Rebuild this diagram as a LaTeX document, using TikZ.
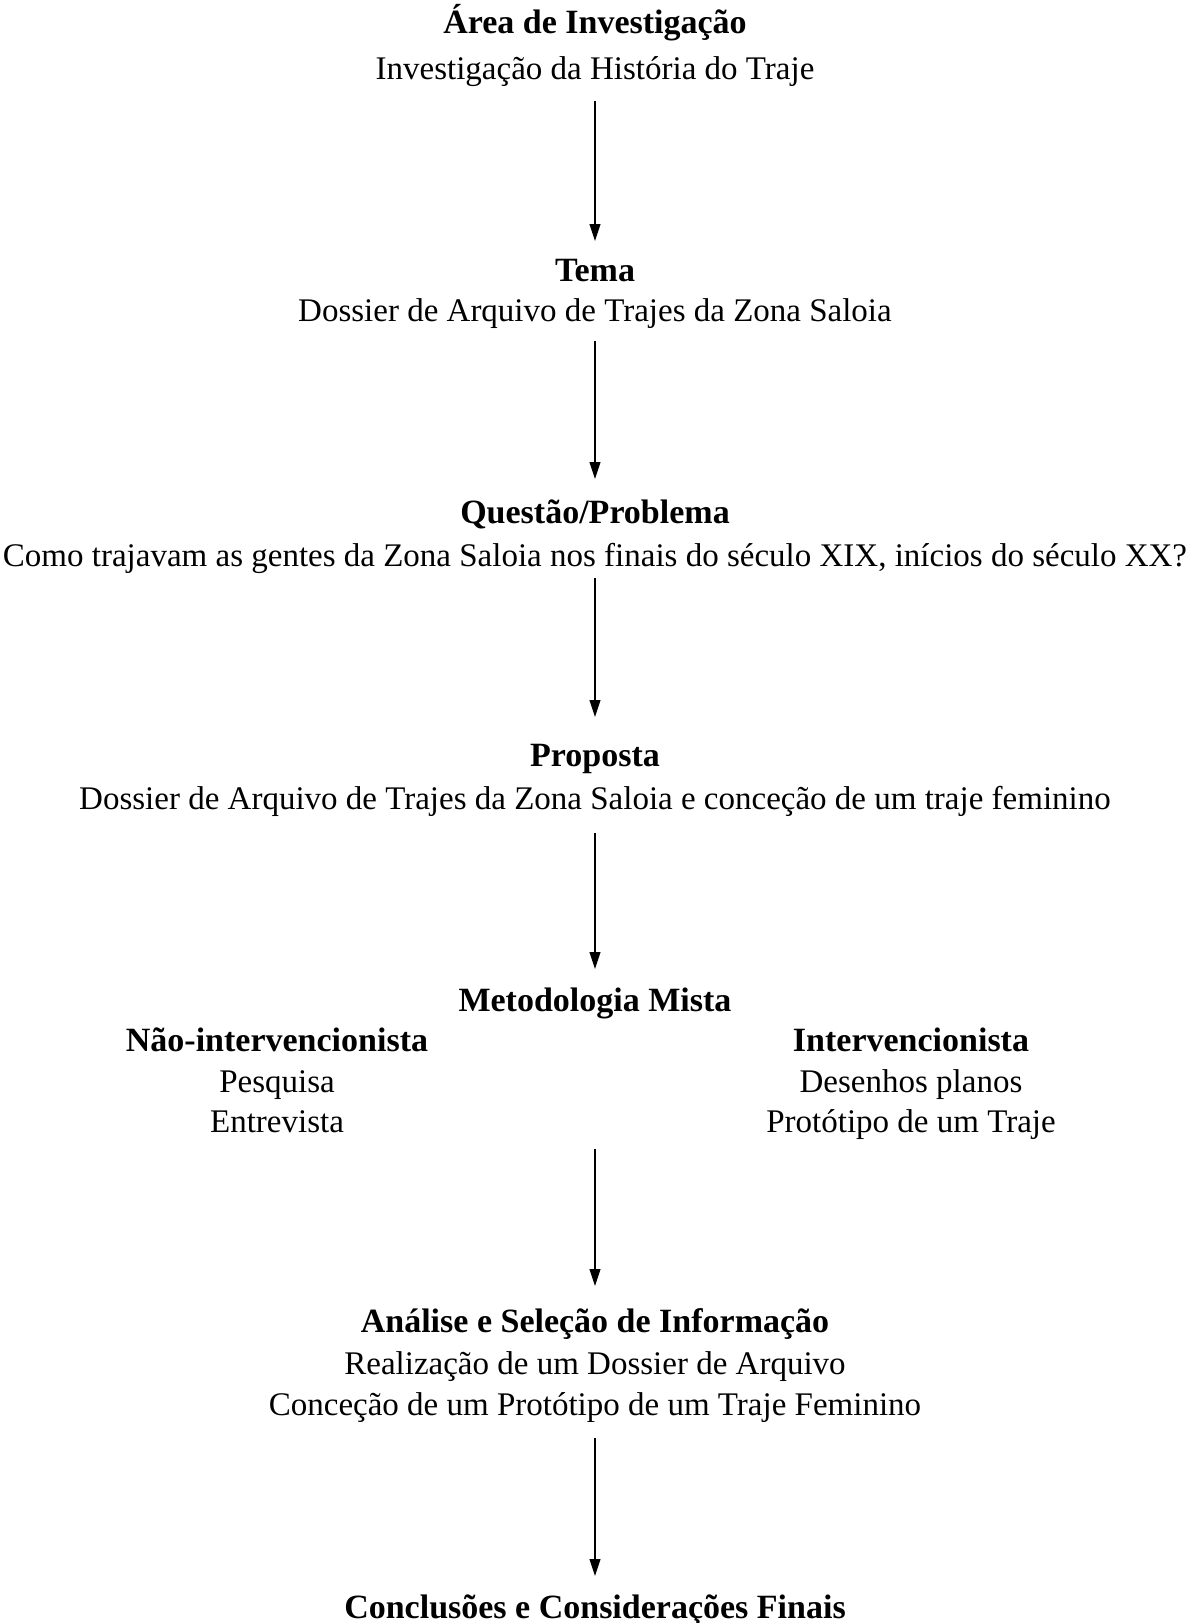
\documentclass[tikz,border=0pt]{standalone}
\usepackage{fontspec}
\setmainfont{Liberation Serif}
\usetikzlibrary{arrows.meta}
\tikzset{
  txt/.style={anchor=base, inner sep=0pt, font=\fontsize{33}{40}\selectfont},
  ttl/.style={txt, font=\fontsize{34}{40}\selectfont\bfseries},
  flow/.style={line width=1.1pt, -{Triangle[length=17pt,width=11pt]}}
}
\begin{document}
\begin{tikzpicture}[x=1pt,y=-1pt]
\useasboundingbox (0,0) rectangle (1186,1623);
% texts (base lines)
\node[ttl] (t1) at (595,33) {Área de Investigação};
\node[txt] (s1) at (595,79) {Investigação da História do Traje};
\node[ttl] (t2) at (595,281) {Tema};
\node[txt] (s2) at (595,321) {Dossier de Arquivo de Trajes da Zona Saloia};
\node[ttl] (t3) at (595,523) {Questão/Problema};
\node[txt] (s3) at (595,566) {Como trajavam as gentes da Zona Saloia nos finais do século XIX, inícios do século XX?};
\node[ttl] (t4) at (595,766) {Proposta};
\node[txt] (s4) at (595,809) {Dossier de Arquivo de Trajes da Zona Saloia e conceção de um traje feminino};
\node[ttl] (t5) at (595,1011) {Metodologia Mista};
\node[ttl] (l1) at (277,1051) {Não-intervencionista};
\node[txt] (l2) at (277,1092) {Pesquisa};
\node[txt] (l3) at (277,1132) {Entrevista};
\node[ttl] (r1) at (911,1051) {Intervencionista};
\node[txt] (r2) at (911,1092) {Desenhos planos};
\node[txt] (r3) at (911,1132) {Protótipo de um Traje};
\node[ttl] (t6) at (595,1332) {Análise e Seleção de Informação};
\node[txt] (s6a) at (595,1374) {Realização de um Dossier de Arquivo};
\node[txt] (s6b) at (595,1415) {Conceção de um Protótipo de um Traje Feminino};
\node[ttl] (t7) at (595,1618) {Conclusões e Considerações Finais};
% arrow ends
\coordinate (a1s) at (595,101);  \coordinate (a1e) at (595,241);
\coordinate (a2s) at (595,341);  \coordinate (a2e) at (595,479);
\coordinate (a3s) at (595,578);  \coordinate (a3e) at (595,717);
\coordinate (a4s) at (595,833);  \coordinate (a4e) at (595,969);
\coordinate (a5s) at (595,1149); \coordinate (a5e) at (595,1286);
\coordinate (a6s) at (595,1438); \coordinate (a6e) at (595,1576);
\draw[flow] (a1s) -- (a1e);
\draw[flow] (a2s) -- (a2e);
\draw[flow] (a3s) -- (a3e);
\draw[flow] (a4s) -- (a4e);
\draw[flow] (a5s) -- (a5e);
\draw[flow] (a6s) -- (a6e);
\end{tikzpicture}
\end{document}
